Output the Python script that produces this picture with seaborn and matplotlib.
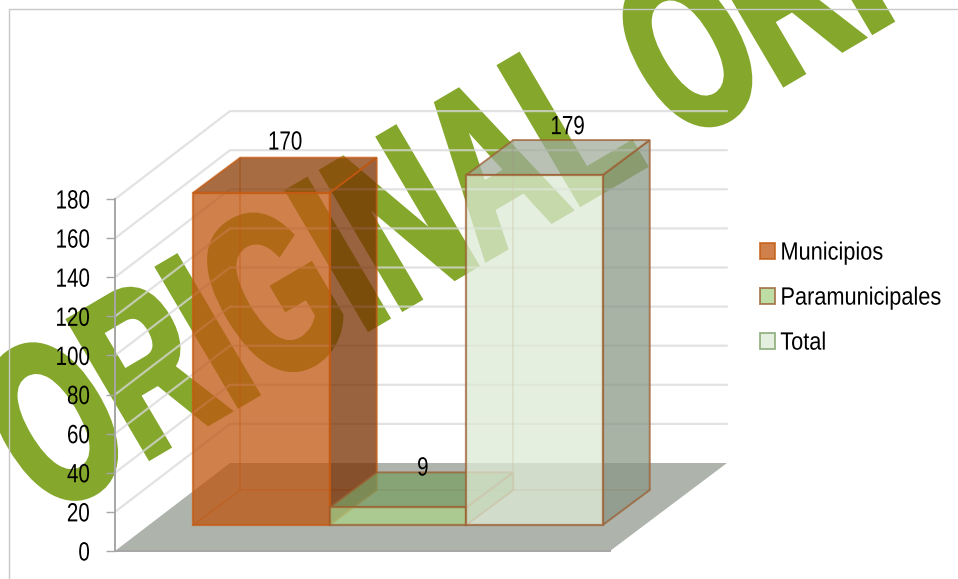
import matplotlib
matplotlib.use("Agg")
import matplotlib.pyplot as plt
import matplotlib.patheffects as pe
from matplotlib.patches import Polygon
from matplotlib.transforms import Affine2D
import seaborn as sns

series = ["Municipios", "Paramunicipales", "Total"]
values = [170, 9, 179]
value_ticks = [0, 20, 40, 60, 80, 100, 120, 140, 160, 180]
watermark = "ORIGINAL ORI"

front_colors = ["#bf550f", "#a9d289", "#ddead6"]
side_colors = ["#782f00", "#7aa065", "#8b9887"]
top_colors = ["#8b3b03", "#7aa065", "#a0ad9b"]
edge_colors = ["#c55a11", "#9c5f30", "#9c5f30"]
legend_edges = ["#c55a11", "#9c5f30", "#7fa36a"]
label_lift = [7.7, 2, 6.6]
label_shift = [0, 0.01, 0.07]

W, H = 958, 579
BAR_W = 136.5
PX_PER_UNIT = 1.955
X0, Y0 = 261.5, 525  # pixel of category 0 / value 0 on the bars' front plane
DX, DY = 47 / BAR_W, 35 / PX_PER_UNIT  # bar depth
FAMILY = ["Liberation Sans"]


def px(x, y):
    return (x - X0) / BAR_W, (Y0 - y) / PX_PER_UNIT


# no condensed font installed, so glyphs get narrowed while they are drawn
# pivot is where the text is anchored: 0 left, 0.5 centre, 1 right
class Squeeze(pe.AbstractPathEffect):
    def __init__(self, sx, pivot=0.0, stroke=0.0):
        super().__init__()
        self.sx = sx
        self.pivot = pivot
        self.stroke = stroke

    def draw_path(self, renderer, gc, tpath, affine, rgbFace=None):
        box = tpath.get_extents()
        p = box.x0 + self.pivot * box.width
        squeeze = Affine2D().translate(-p, 0).scale(self.sx, 1).translate(p, 0)
        gc.set_linewidth(self.stroke)
        gc.set_joinstyle("miter")
        renderer.draw_path(gc, tpath, squeeze + affine, rgbFace)


sns.set_style("white")
plt.rcParams["font.family"] = FAMILY
plt.rcParams["text.color"] = "black"

fig = plt.figure(figsize=(W / 100, H / 100), dpi=100)
ax = fig.add_axes([0, 0, 1, 1])
sns.barplot(x=series, y=values, hue=series, palette=front_colors, order=series,
            hue_order=series, width=1, dodge=False, saturation=1, alpha=0.75,
            legend=True, ax=ax)
handles, labels = ax.get_legend_handles_labels()
ax.get_legend().remove()
ax.set_xlim(px(0, 0)[0], px(W, 0)[0])
ax.set_ylim(px(0, H)[1], px(0, 0)[1])
ax.axis("off")

# floor and walls
ax.add_patch(Polygon([px(115, 551), px(610, 551), px(727, 463), px(230, 463)],
                     fc="#aeb3ac", ec="none", zorder=0))
for tick in value_ticks[1:]:
    y = 551 - tick * PX_PER_UNIT
    pts = [px(115, y), px(230, y - 88), px(727, y - 88)]
    ax.plot(*zip(*pts), color="#d9d9d9", alpha=0.75, lw=1.6, zorder=2)
frame = [px(9, H), px(9, 9), px(W, 9)]
ax.plot(*zip(*frame), color="#c8c8c8", lw=1, zorder=2)

ox, oy = px(43, 520)
ax.text(ox, oy, watermark, rotation=30.5, rotation_mode="anchor", ha="left",
        va="baseline", fontsize=166, fontweight="bold", color="#84a72c", zorder=1,
        path_effects=[Squeeze(0.62, stroke=4.5)])

# boxes: front face comes from seaborn, the rest is projected from it
for i, container in enumerate(ax.containers):
    bar = container[0]
    x0, x1 = bar.get_x(), bar.get_x() + bar.get_width()
    v = bar.get_height()
    bar.set_edgecolor(edge_colors[i])
    bar.set_linewidth(1.6)
    bar.set_zorder(5)
    ax.add_patch(Polygon([(x1, 0), (x1 + DX, DY), (x1 + DX, v + DY), (x1, v)],
                         fc=side_colors[i], ec=edge_colors[i], lw=1.4, alpha=0.75, zorder=4))
    ax.add_patch(Polygon([(x0, v), (x0 + DX, v + DY), (x1 + DX, v + DY), (x1, v)],
                         fc=top_colors[i], ec=edge_colors[i], lw=1.4, alpha=0.75, zorder=4))
    back = [(x0, 0), (x0 + DX, DY), (x1 + DX, DY)]
    ax.plot(*zip(*back), color=edge_colors[i], lw=1.1, alpha=0.45, zorder=3)
    ax.plot([x0 + DX, x0 + DX], [DY, v + DY], color=edge_colors[i], lw=1.1, alpha=0.45, zorder=3)
    ax.text((x0 + x1) / 2 + DX / 2 + label_shift[i], v + DY + label_lift[i], str(values[i]),
            ha="center", va="center", fontsize=19, color="black", zorder=6,
            path_effects=[Squeeze(0.78, pivot=0.5)])

leg = ax.legend(handles, labels, loc="center left", frameon=False, fontsize=18,
                bbox_to_anchor=(0.793, 0.486), labelspacing=0.84, handlelength=0.62,
                handleheight=0.62, handletextpad=0.2, borderpad=0, borderaxespad=0)
for i, h in enumerate(leg.legend_handles):
    h.set_edgecolor(legend_edges[i])
    h.set_linewidth(1.4)
for t in leg.get_texts():
    t.set_path_effects([Squeeze(0.87)])

# value axis sits on the front edge of the floor
vax = fig.add_axes([115 / W, (H - 551) / H, 495 / W, 352 / H], facecolor="none")
vax.set_ylim(0, 180)
vax.set_yticks(value_ticks)
vax.set_xticks([])
vax.tick_params(axis="y", left=True, length=6.5, width=1, color="#a6a6a6",
                labelsize=19, labelcolor="black", pad=11.5)
for t in vax.get_yticklabels():
    t.set_path_effects([Squeeze(0.78, pivot=1.0)])
sns.despine(ax=vax, top=True, right=True)
for side in ["left", "bottom"]:
    vax.spines[side].set_color("#a6a6a6")
    vax.spines[side].set_linewidth(1.4)

fig.savefig("out.png", dpi=100)
